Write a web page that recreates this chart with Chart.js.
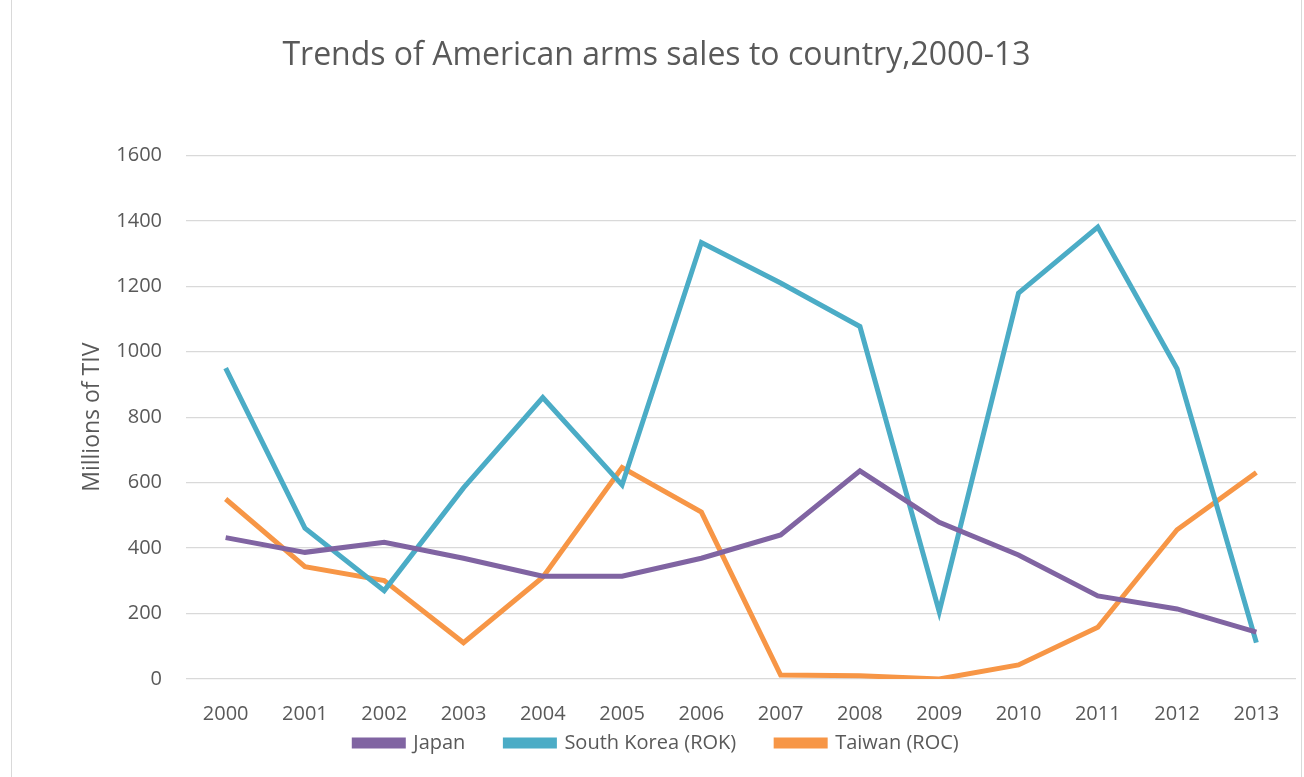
<!DOCTYPE html>
<html>
<head>
<meta charset="utf-8">
<script src="https://cdn.jsdelivr.net/npm/chart.js@4"></script>
<style>
    html, body { margin: 0; padding: 0; background: #fff; }
    #wrap { position: relative; width: 1304px; height: 777px; }
    #frame { position: absolute; left: 11px; top: -2px; width: 1289px; height: 790px; border: 1px solid #d9d9d9; }
    canvas { position: absolute; left: 0; top: 0; }
</style>
</head>
<body>
<div id="wrap">
    <div id="frame"></div>
    <canvas id="armsChart" width="1304" height="777"></canvas>
</div>
<script>
// data
const years = ['2000', '2001', '2002', '2003', '2004', '2005', '2006', '2007', '2008', '2009', '2010', '2011', '2012', '2013'];
const japan = [432, 387, 418, 369, 314, 314, 369, 440, 636, 479, 379, 254, 214, 143];
const southKorea = [950, 461, 270, 584, 860, 593, 1334, 1210, 1077, 206, 1179, 1381, 948, 111];
const taiwan = [550, 343, 301, 111, 311, 646, 510, 12, 10, 0, 43, 158, 456, 631];
const yTicks = [0, 200, 400, 600, 800, 1000, 1200, 1400, 1600];

const textColor = '#595959';
const fontFamily = '"Open Sans", sans-serif';

function series(label, data, color) {
    return {
        label: label,
        data: data,
        borderColor: color,
        backgroundColor: color,
        borderWidth: 5,
        pointRadius: 0,
        tension: 0,
        borderJoinStyle: 'miter'
    };
}

const ctx = document.getElementById('armsChart').getContext('2d');
new Chart(ctx, {
    type: 'line',
    data: {
        labels: years,
        datasets: [
            series('Japan', japan, '#8064A2'),
            series('South Korea (ROK)', southKorea, '#4BACC6'),
            series('Taiwan (ROC)', taiwan, '#F79646')
        ]
    },
    options: {
        responsive: false,
        animation: false,
        layout: {
            padding: { left: 17, right: 8, top: 0, bottom: 14 }
        },
        plugins: {
            title: {
                display: true,
                text: 'Trends of American arms sales to country,2000-13',
                color: textColor,
                font: { family: fontFamily, size: 32, weight: 'normal' },
                padding: { top: 37, bottom: 80 }
            },
            legend: {
                position: 'bottom',
                labels: {
                    color: textColor,
                    font: { family: fontFamily, size: 20 },
                    boxWidth: 49,
                    boxHeight: 6,
                    padding: 10,
                    generateLabels: function (chart) {
                        const items = Chart.defaults.plugins.legend.labels.generateLabels(chart);
                        // wider gaps between entries, like the original legend
                        items.forEach((item, i) => {
                            if (i < items.length - 1) item.text += '\u2002\u2002\u2002';
                        });
                        return items;
                    }
                }
            },
            tooltip: { enabled: false }
        },
        scales: {
            x: {
                offset: true,
                afterFit: function (scale) {
                    scale.height = 44;
                },
                grid: { display: false, drawTicks: false },
                border: { display: false },
                ticks: {
                    color: textColor,
                    font: { family: fontFamily, size: 20 },
                    padding: 23,
                    maxRotation: 0
                }
            },
            y: {
                min: 0,
                max: 1600,
                afterBuildTicks: function (scale) {
                    scale.ticks = yTicks.map(v => ({ value: v }));
                },
                afterFit: function (scale) {
                    scale.width = 169;
                },
                grid: { color: '#d9d9d9', lineWidth: 1.3, drawTicks: false },
                border: { display: false },
                ticks: {
                    color: textColor,
                    font: { family: fontFamily, size: 20 },
                    padding: 24,
                    callback: function (value) { return String(value); }
                },
                title: {
                    display: true,
                    text: 'Millions of TIV',
                    color: textColor,
                    font: { family: fontFamily, size: 23 },
                    padding: { top: 62, bottom: 4 }
                }
            }
        }
    }
});
</script>
</body>
</html>
